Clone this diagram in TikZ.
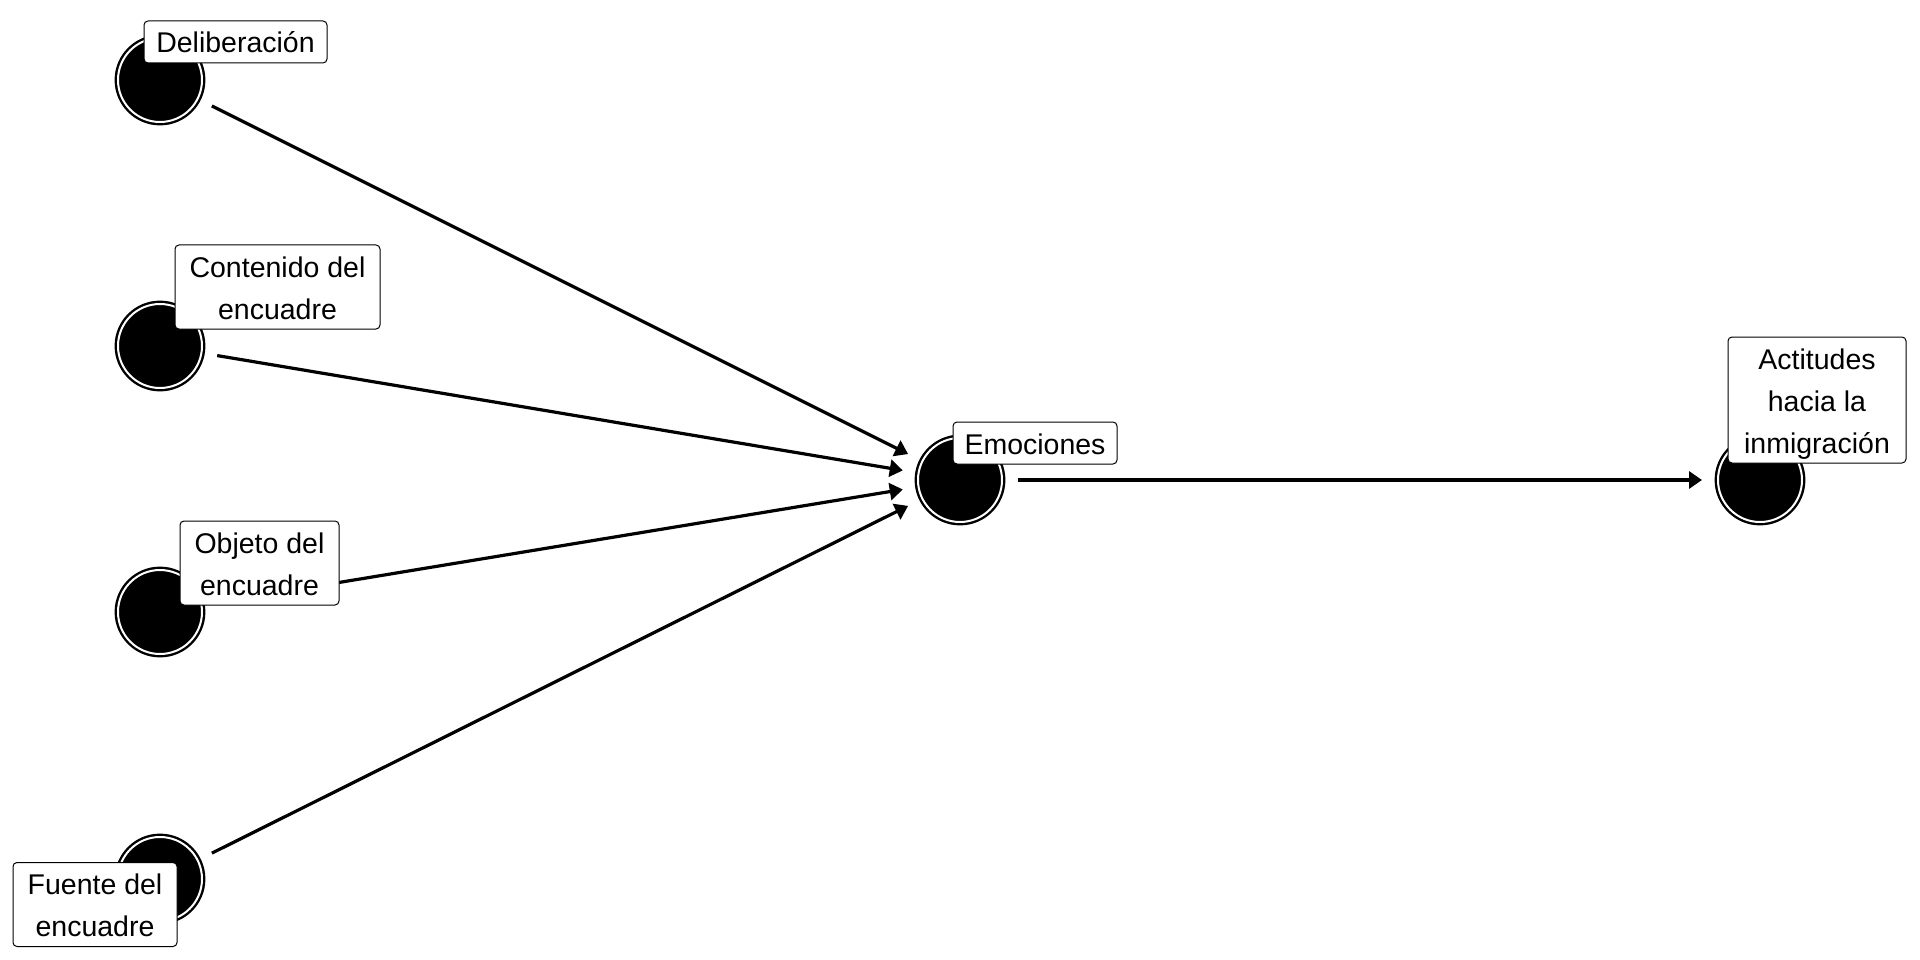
\documentclass[tikz,border=0pt]{standalone}
\usepackage{fontspec}
\setmainfont{Liberation Sans}
\usetikzlibrary{arrows.meta}
\newcommand{\lst}{\rule[-10pt]{0pt}{42pt}}
\begin{document}
\begin{tikzpicture}[x=1pt,y=-1pt,
  var/.style={circle, draw=black, fill=black, line width=2.4pt, double=white, double distance=2pt, minimum size=84pt, inner sep=0pt, outer sep=16pt},
  lbl/.style={draw=black, fill=white, rounded corners=4pt, line width=1pt, align=center, inner xsep=0pt, inner ysep=0pt, font=\fontsize{28.5}{42}\selectfont},
  arr/.style={line width=3.2pt, -{Triangle[length=13pt,width=17pt]}}
]
\useasboundingbox (0,0) rectangle (1920,960);
\node[var] (d) at (160,80) {};
\node[var] (c) at (160,346) {};
\node[var] (o) at (160,612) {};
\node[var] (f) at (160,879) {};
\node[var] (e) at (960,480) {};
\node[var] (a) at (1760,480) {};
\draw[arr] (d) -- (e);
\draw[arr] (c) -- (e);
\draw[arr] (o) -- (e);
\draw[arr] (f) -- (e);
\draw[arr] (e) -- (a);
\node[lbl, minimum width=183pt] (ld) at (235.5,42) {\lst Deliberación};
\node[lbl, minimum width=205pt] (lc) at (277.5,287) {\lst Contenido del\\\lst encuadre};
\node[lbl, minimum width=159pt] (lo) at (259.5,563) {\lst Objeto del\\\lst encuadre};
\node[lbl, minimum width=164pt] (lf) at (95,904.5) {\lst Fuente del\\\lst encuadre};
\node[lbl, minimum width=164pt] (le) at (1035,443) {\lst Emociones};
\node[lbl, minimum width=178pt] (la) at (1817,400) {\lst Actitudes\\\lst hacia la\\\lst inmigración};
\end{tikzpicture}
\end{document}
